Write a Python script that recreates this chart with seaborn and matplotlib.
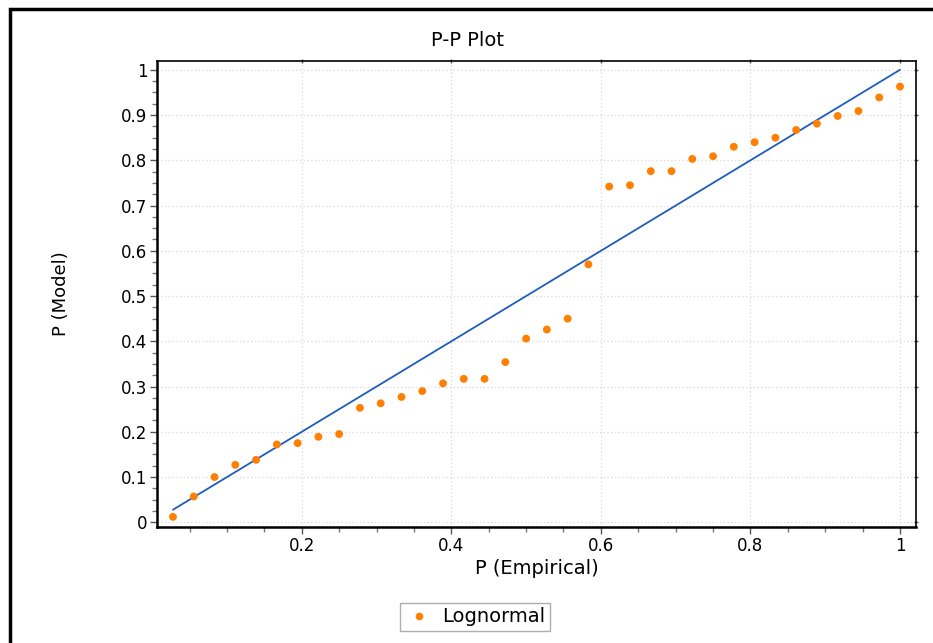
import numpy as np
import pandas as pd
import matplotlib
matplotlib.use("Agg")
import matplotlib.pyplot as plt
from matplotlib.patches import Rectangle
from matplotlib.ticker import MultipleLocator
from matplotlib.lines import Line2D
import seaborn as sns

# Data
p_empirical = [i / 36 for i in range(1, 37)]
p_model = [0.012, 0.057, 0.100, 0.127, 0.138, 0.172, 0.175, 0.189, 0.195,
           0.253, 0.263, 0.277, 0.290, 0.307, 0.317, 0.317, 0.354, 0.406,
           0.426, 0.450, 0.570, 0.742, 0.745, 0.776, 0.776, 0.803, 0.809,
           0.830, 0.840, 0.850, 0.867, 0.881, 0.898, 0.909, 0.939, 0.963]
ref_x = [1 / 36, 1.0]
ref_y = [1 / 36, 1.0]
series_name = "Lognormal"
x_ticks = [0.2, 0.4, 0.6, 0.8, 1.0]
x_tick_labels = ["0.2", "0.4", "0.6", "0.8", "1"]
y_ticks = [0, 0.1, 0.2, 0.3, 0.4, 0.5, 0.6, 0.7, 0.8, 0.9, 1.0]
y_tick_labels = ["0", "0.1", "0.2", "0.3", "0.4", "0.5", "0.6", "0.7", "0.8", "0.9", "1"]

df = pd.DataFrame({"P (Empirical)": p_empirical, "P (Model)": p_model})

sns.set_theme(style="white")
plt.rcParams['font.family'] = ['DejaVu Sans']
plt.rcParams['text.color'] = 'black'
plt.rcParams['axes.labelcolor'] = 'black'

W, H = 933, 643
fig = plt.figure(figsize=(W / 100, H / 100), dpi=100)
ax = fig.add_axes([157 / W, 1 - 527 / H, (916 - 157) / W, (527 - 61) / H])

sns.lineplot(x=ref_x, y=ref_y, ax=ax, color="#1f5cbf", linewidth=1.3, legend=False)
sns.scatterplot(data=df, x="P (Empirical)", y="P (Model)", ax=ax, color="#ff8000",
                s=32, edgecolor="none", legend=False, zorder=3)

ax.set_xlim(0.0064, 1.0214)
ax.set_ylim(-0.0104, 1.0195)
ax.set_xticks(x_ticks)
ax.set_xticklabels(x_tick_labels)
ax.set_yticks(y_ticks)
ax.set_yticklabels(y_tick_labels)
ax.xaxis.set_minor_locator(MultipleLocator(0.05))
ax.yaxis.set_minor_locator(MultipleLocator(0.025))

ax.grid(True, which="major", color="#d8d8d8", linestyle=(0, (1, 2)), linewidth=0.9)
ax.set_axisbelow(True)

for s in ax.spines.values():
    s.set_visible(True)
    s.set_color("black")
ax.spines["left"].set_linewidth(1.8)
ax.spines["bottom"].set_linewidth(1.8)
ax.spines["top"].set_linewidth(1.2)
ax.spines["right"].set_linewidth(1.2)

ax.tick_params(axis="both", which="major", direction="out", length=5, width=1,
               color="#555555", labelsize=12, labelcolor="black", pad=2)
ax.tick_params(axis="both", which="minor", direction="out", length=3.5, width=1,
               color="#777777", bottom=True, left=True)
ax.xaxis.set_ticks_position("both")
ax.yaxis.set_ticks_position("both")
ax.tick_params(axis="x", which="both", top=True, labeltop=False)
ax.tick_params(axis="y", which="both", right=True, labelright=False)
ax.tick_params(axis="x", which="minor", top=False)
ax.tick_params(axis="y", which="minor", right=False)
for t in ax.xaxis.get_major_ticks():
    t.tick2line.set_markersize(3)
    t.tick2line.set_marker("|")
for t in ax.yaxis.get_major_ticks():
    t.tick2line.set_markersize(3)
    t.tick2line.set_marker("_")

fig.text(467 / W, 1 - 40 / H, "P-P Plot", fontsize=14, ha="center", va="center",
         color="black")
ax.set_xlabel("P (Empirical)", fontsize=14, labelpad=3, color="black")
ax.set_ylabel("P (Model)", fontsize=13, color="black")
ax.yaxis.set_label_coords(-0.114, 0.5)

h = Line2D([], [], marker="o", linestyle="none", color="#ff8000", markersize=4.5)
leg = fig.legend([h], [series_name], loc="center", bbox_to_anchor=(475 / W, 1 - 617 / H),
                 fontsize=14, frameon=True, fancybox=False, edgecolor="#999999",
                 handletextpad=0.5, handlelength=1.4, borderpad=0.25,
                 borderaxespad=0.0)
for t in leg.get_texts():
    t.set_color("black")
leg.get_frame().set_linewidth(1.0)

fig.patches.append(Rectangle((10 / W, -0.1), 2, 1 - 9 / H + 0.1, transform=fig.transFigure,
                             fill=False, edgecolor="black", linewidth=2.5))

fig.savefig("out.png", dpi=100)
